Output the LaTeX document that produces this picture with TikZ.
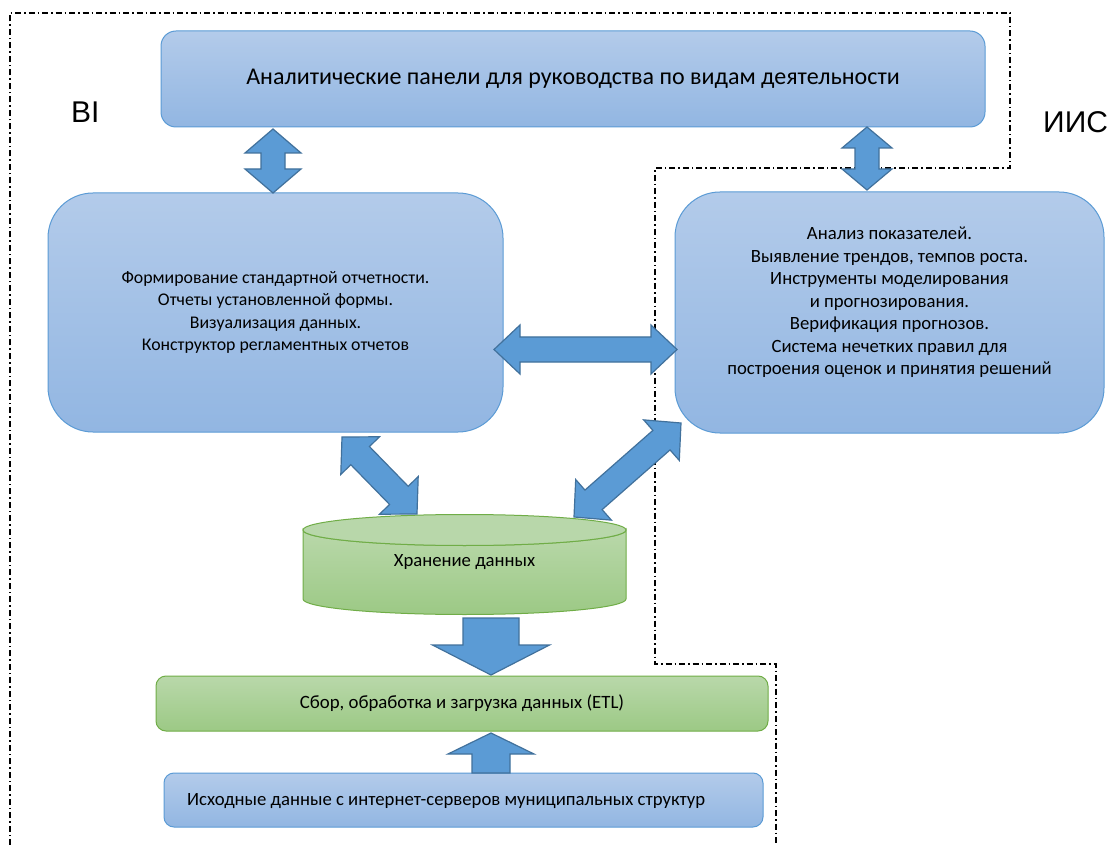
\documentclass[tikz,border=0pt]{standalone}
\usepackage{fontspec}
\setmainfont{Carlito}
\newfontfamily\arialfont{Liberation Sans}
\usetikzlibrary{calc}
\definecolor{bfillA}{RGB}{179,203,234}
\definecolor{bfillB}{RGB}{146,182,226}
\definecolor{bline}{RGB}{91,155,213}
\definecolor{gfillA}{RGB}{185,216,170}
\definecolor{gfillB}{RGB}{156,201,133}
\definecolor{gtop}{RGB}{184,215,170}
\definecolor{gline}{RGB}{112,173,71}
\definecolor{afill}{RGB}{91,155,213}
\definecolor{aline}{RGB}{65,113,156}
\newcommand\dblarr[5]{%
  \coordinate (tmpA) at ($(#1)!#5!(#2)$);
  \coordinate (tmpB) at ($(#2)!#5!(#1)$);
  \draw[blockarrow] (#1) -- ($(tmpA)!#4!90:(#2)$) -- ($(tmpA)!#3!90:(#2)$)
    -- ($(tmpB)!#3!-90:(#1)$) -- ($(tmpB)!#4!-90:(#1)$) -- (#2)
    -- ($(tmpB)!#4!90:(#1)$) -- ($(tmpB)!#3!90:(#1)$)
    -- ($(tmpA)!#3!-90:(#2)$) -- ($(tmpA)!#4!-90:(#2)$) -- cycle;}
\newcommand\sglarr[5]{%
  \coordinate (tmpB) at ($(#2)!#5!(#1)$);
  \draw[blockarrow] ($(#1)!#3!90:(#2)$) -- ($(tmpB)!#3!-90:(#1)$)
    -- ($(tmpB)!#4!-90:(#1)$) -- (#2) -- ($(tmpB)!#4!90:(#1)$)
    -- ($(tmpB)!#3!90:(#1)$) -- ($(#1)!#3!-90:(#2)$) -- cycle;}
\begin{document}
\begin{tikzpicture}[x=1pt,y=-1pt,
  bluebox/.style={draw=bline, line width=1pt, top color=bfillA, bottom color=bfillB,
    rounded corners=#1, inner sep=0pt, align=center},
  greenbox/.style={draw=gline, line width=1pt, top color=gfillA, bottom color=gfillB,
    rounded corners=#1, inner sep=0pt, align=center},
  blockarrow/.style={draw=aline, line width=1.2pt, fill=afill, line join=miter},
  bound/.style={draw=black, line width=1.4pt, dash pattern=on 6pt off 3pt on 1.5pt off 3pt},
  txt/.style={font=\fontsize{18.7}{22.5}\selectfont},
  biglabel/.style={font=\arialfont\fontsize{30}{36}\selectfont, inner sep=0pt, anchor=base west}]
\useasboundingbox (0,0) rectangle (1112,845);
\fill[white] (0,0) rectangle (1112,845);

% boundary of BI
\draw[bound] (10,845) -- (10,13) -- (1010,13) -- (1010,168) -- (655,168)
  -- (655,664) -- (776,664) -- (776,845);

\node[biglabel] (bi) at (71,123) {BI};
\node[biglabel] (iis) at (1043,133) {ИИС};

% boxes
\node[bluebox=15pt, minimum width=824pt, minimum height=96pt,
  font=\fontsize{24}{28}\selectfont] (dash) at (573,79)
  {Аналитические панели для руководства по видам деятельности};
\node[bluebox=45pt, minimum width=455pt, minimum height=239pt,
  font=\fontsize{17.8}{22.3}\selectfont] (rep) at (275.5,312.5)
  {Формирование стандартной отчетности.\\Отчеты установленной формы.\\Визуализация данных.\\Конструктор регламентных отчетов};
\node[bluebox=45pt, minimum width=429pt, minimum height=241pt] (anl) at (889.5,312.5) {};
\node[txt, align=center, inner sep=0pt] (anltext) at (889.5,302.5)
  {Анализ показателей.\\Выявление трендов, темпов роста.\\Инструменты моделирования\\и прогнозирования.\\Верификация прогнозов.\\Система нечетких правил для\\построения оценок и принятия решений};

% cylinder
\shade[top color=gfillA, bottom color=gfillB, draw=gline, line width=1pt]
  (303,530) -- (303,599) arc[start angle=180, end angle=360, x radius=161.5pt, y radius=15.5pt]
  -- (626,530) arc[start angle=0, end angle=-180, x radius=161.5pt, y radius=15.5pt] -- cycle;
\filldraw[fill=gtop, draw=gline, line width=1pt] (464.5,530) ellipse[x radius=161.5pt, y radius=15.5pt];
\node[txt, inner sep=0pt, minimum width=323pt, minimum height=100pt] (store) at (464.5,562) {Хранение данных};

\node[greenbox=10pt, minimum width=612pt, minimum height=55pt,
  font=\fontsize{18.8}{22.5}\selectfont] (etl) at (462,703.5)
  {Сбор, обработка и загрузка данных (ETL)};
\node[bluebox=10pt, minimum width=599pt, minimum height=54pt] (src) at (463.5,800) {};
\node[txt, inner sep=0pt, anchor=west] (srctext) at (187,801)
  {Исходные данные с интернет-серверов муниципальных структур};

% arrow endpoints
\coordinate (a1s) at (273,129);  \coordinate (a1e) at (273,193);
\coordinate (a2s) at (867,127);  \coordinate (a2e) at (867,190);
\coordinate (a3s) at (494,349.5);\coordinate (a3e) at (677,349.5);
\coordinate (a4s) at (342,437);  \coordinate (a4e) at (417,514);
\coordinate (a5s) at (574,517);  \coordinate (a5e) at (681,423);
\coordinate (a6s) at (491,618);  \coordinate (a6e) at (491,675);
\coordinate (a7s) at (491,773);  \coordinate (a7e) at (491,733);

\dblarr{a1s}{a1e}{12pt}{28pt}{24pt}
\dblarr{a2s}{a2e}{12pt}{25pt}{21pt}
\dblarr{a3s}{a3e}{12.5pt}{24.5pt}{26pt}
\dblarr{a4s}{a4e}{13pt}{27pt}{26pt}
\dblarr{a5s}{a5e}{13pt}{27pt}{26pt}
\sglarr{a6s}{a6e}{28pt}{58.5pt}{30pt}
\sglarr{a7s}{a7e}{19pt}{43pt}{21pt}
\end{tikzpicture}
\end{document}
